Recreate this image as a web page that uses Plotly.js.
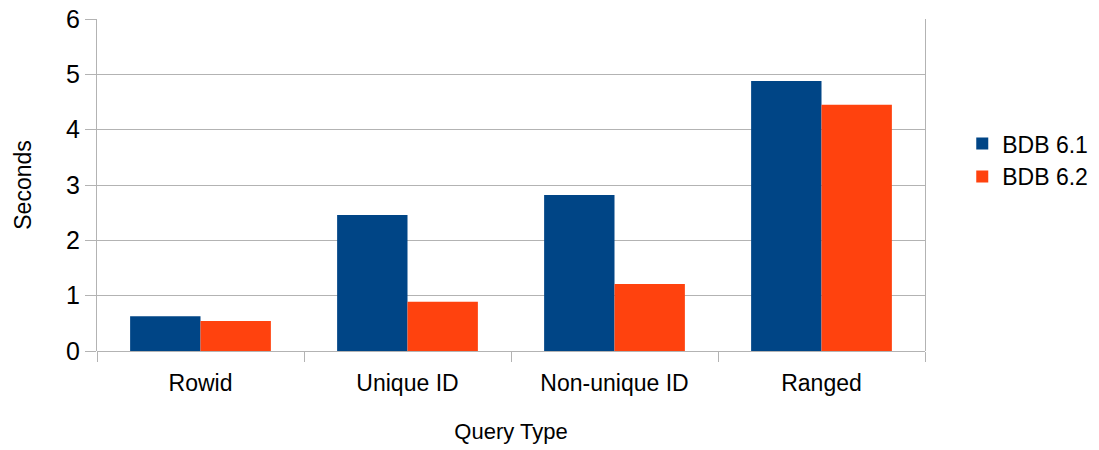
<!DOCTYPE html>
<html>
<head>
<meta charset="utf-8">
<script src="https://cdn.plot.ly/plotly-3.0.1.min.js"></script>
<style>html,body{margin:0;padding:0;background:#fff;}#chart{width:1099px;height:450px;}</style>
</head>
<body>
<div id="chart"></div>
<script>
var categories = ["Rowid", "Unique ID", "Non-unique ID", "Ranged"];
var bdb61 = [0.63, 2.46, 2.82, 4.88];
var bdb62 = [0.54, 0.89, 1.21, 4.45];
var yTicks = [0, 1, 2, 3, 4, 5, 6];

var font = "Liberation Sans, Arial, sans-serif";
var traces = [
  {type: "bar", name: "BDB 6.1", x: categories, y: bdb61, marker: {color: "#004586"}},
  {type: "bar", name: "BDB 6.2", x: categories, y: bdb62, marker: {color: "#ff420e"}}
];
var layout = {
  width: 1099, height: 450,
  margin: {l: 97, r: 174, t: 19, b: 99, autoexpand: false},
  paper_bgcolor: "#fff", plot_bgcolor: "#fff",
  font: {family: font, size: 24, color: "#000"},
  barmode: "group", bargap: 0.32, bargroupgap: 0,
  showlegend: true,
  legend: {x: 1.045, y: 0.575, xanchor: "left", yanchor: "middle", font: {size: 23, family: font}, itemwidth: 30},
  xaxis: {
    type: "category",
    tickson: "boundaries", ticks: "outside", ticklen: 10, tickcolor: "#b3b3b3", tickwidth: 1,
    showline: false, showgrid: false, zeroline: false,
    tickfont: {size: 23, family: font},
    ticklabelstandoff: 16,
    automargin: false,
    title: {text: "Query Type", font: {size: 22, family: font}, standoff: 28}
  },
  yaxis: {
    range: [0, 6], tickvals: yTicks, ticktext: yTicks.map(String),
    ticks: "outside", ticklen: 11, tickcolor: "#b3b3b3", tickwidth: 1,
    showgrid: true, gridcolor: "#b3b3b3", gridwidth: 1,
    showline: true, linecolor: "#b3b3b3", linewidth: 1, mirror: true,
    zeroline: true, zerolinecolor: "#b3b3b3", zerolinewidth: 1,
    tickfont: {size: 25, family: font},
    automargin: true,
    title: {text: "Seconds", font: {size: 23, family: font}, standoff: 28}
  }
};
Plotly.newPlot("chart", traces, layout, {displayModeBar: false, staticPlot: true});
</script>
</body>
</html>
